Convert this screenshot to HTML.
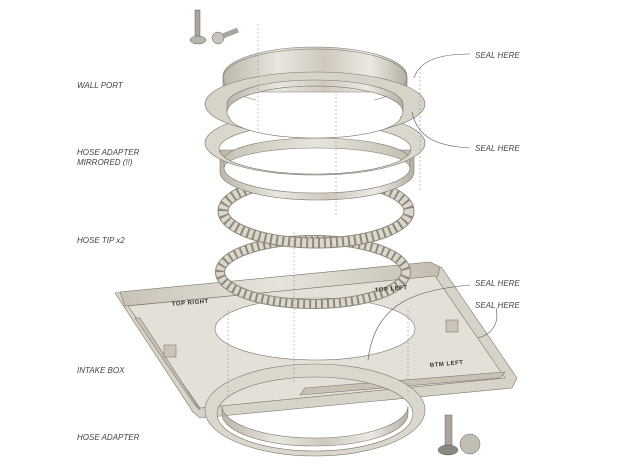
<!DOCTYPE html>
<html><head><meta charset="utf-8"><style>
html,body{margin:0;padding:0;background:#fff;width:628px;height:472px;overflow:hidden}
svg{display:block}
text{font-family:"Liberation Sans",sans-serif;font-style:italic;font-size:8px;fill:#444}
.eng{font-style:normal;font-weight:bold;font-size:6px;fill:#333;letter-spacing:.5px}
</style></head><body>
<svg width="628" height="472" viewBox="0 0 628 472" xmlns="http://www.w3.org/2000/svg">
<defs>
<linearGradient id="m" x1="0" x2="1" y1="0" y2="0">
<stop offset="0" stop-color="#bdb7aa"/><stop offset=".3" stop-color="#e9e6df"/><stop offset=".55" stop-color="#cfc9bd"/><stop offset=".8" stop-color="#ece9e3"/><stop offset="1" stop-color="#b5afa2"/>
</linearGradient>
<linearGradient id="m2" x1="0" x2="1">
<stop offset="0" stop-color="#c9c3b6"/><stop offset=".5" stop-color="#e7e4dc"/><stop offset="1" stop-color="#c4beb1"/>
</linearGradient>
</defs>
<g stroke="#7d786e" stroke-width=".6">
<!-- intake box -->
<polygon points="115,293 430,262 442,268 517,378 512,388 200,418 193,412" fill="#d8d3c8"/>
<polygon points="120,292 430,262 440,267 438,276 125,306" fill="url(#m2)"/>
<polygon points="128,306 435,276 505,378 200,408" fill="#e4e0d8"/>
<polygon points="135,318 195,405 200,410 140,318" fill="#c8c2b5"/>
<polygon points="300,395 500,378 505,372 305,388" fill="#c8c2b5"/>
<ellipse cx="315" cy="329" rx="100" ry="31" fill="#fff"/>
<rect x="164" y="345" width="12" height="12" fill="#cbc5b8"/>
<rect x="446" y="320" width="12" height="12" fill="#cbc5b8"/>
<!-- hose adapter bottom -->
<path fill-rule="evenodd" fill="#dcd7cc" d="M205 410 a110 46 0 1 0 220 0 a110 46 0 1 0 -220 0Z M217 414 a98 37 0 1 0 196 0 a98 37 0 1 0 -196 0Z"/>
<path d="M222 414 A93 32 0 0 0 408 414 L408 406 A93 32 0 0 1 222 406Z" fill="url(#m)"/>
<!-- hose tip 2 -->
<ellipse cx="313" cy="272" rx="93" ry="32" fill="none" stroke="#8f897d" stroke-width="10"/>
<ellipse cx="313" cy="272" rx="93" ry="32" fill="none" stroke="#dcd7cb" stroke-width="8" stroke-dasharray="4 2"/>
<!-- hose tip 1 -->
<ellipse cx="316" cy="211" rx="93" ry="32" fill="none" stroke="#8f897d" stroke-width="11"/>
<ellipse cx="316" cy="211" rx="93" ry="32" fill="none" stroke="#dcd7cb" stroke-width="9" stroke-dasharray="4 2"/>
<!-- hose adapter mirrored -->
<path d="M220 150 L220 172 A97 28 0 0 0 414 172 L414 150Z" fill="url(#m)"/>
<ellipse cx="317" cy="168" rx="93" ry="25" fill="#fff"/>
<path d="M224 160 A93 22 0 0 1 410 160 L410 168 A93 20 0 0 0 224 168Z" fill="url(#m2)"/>
<path fill-rule="evenodd" fill="#dcd7cc" d="M205 143 a110 32 0 1 0 220 0 a110 32 0 1 0 -220 0Z M219 149 a96 25 0 1 0 192 0 a96 25 0 1 0 -192 0Z"/>
<!-- wall port -->
<path d="M223 76 A92 29 0 0 1 407 76 L407 92 L223 92Z" fill="url(#m)"/>
<ellipse cx="315" cy="78" rx="92" ry="29" fill="none"/>
<path fill-rule="evenodd" fill="#d8d3c8" d="M205 104 a110 32 0 1 0 220 0 a110 32 0 1 0 -220 0Z M227 112 a88 26 0 1 0 176 0 a88 26 0 1 0 -176 0Z"/>
<path d="M227 112 A88 26 0 0 1 403 112 L403 104 A88 24 0 0 0 227 104Z" fill="url(#m)"/>
<ellipse cx="315" cy="116" rx="86" ry="22" fill="#fff" stroke="none"/>
<path d="M229 116 A86 22 0 0 0 401 116" fill="none"/>
</g>
<!-- dashed axis lines -->
<g stroke="#888" stroke-width=".5" stroke-dasharray="2 2" fill="none">
<line x1="258" y1="24" x2="258" y2="130"/>
<line x1="336" y1="93" x2="336" y2="215"/>
<line x1="420" y1="68" x2="420" y2="190"/>
<line x1="294" y1="232" x2="294" y2="385"/>
<line x1="228" y1="310" x2="228" y2="398"/>
<line x1="408" y1="310" x2="408" y2="398"/>
</g>
<!-- screws -->
<g stroke="#666" stroke-width=".5">
<rect x="195" y="10" width="5" height="26" fill="#a9a59c"/>
<ellipse cx="198" cy="40" rx="8" ry="4" fill="#b8b4ab"/>
<line x1="218" y1="38" x2="238" y2="30" stroke="#a9a59c" stroke-width="5"/>
<circle cx="218" cy="38" r="6" fill="#c8c4bb"/>
<rect x="445" y="415" width="7" height="30" fill="#a9a59c"/>
<ellipse cx="448" cy="450" rx="10" ry="5" fill="#8c8880"/>
<circle cx="470" cy="444" r="10" fill="#c2bdb3"/>
</g>
<!-- leader lines -->
<g stroke="#555" stroke-width=".6" fill="none">
<path d="M470 54 C440 54 420 60 414 78"/>
<path d="M470 148 C440 146 418 140 412 112"/>
<path d="M470 285 C420 290 375 300 368 360"/>
<path d="M496 308 C500 325 490 335 478 338"/>
</g>
<g>
<text x="77" y="88">WALL PORT</text>
<text x="77" y="155">HOSE ADAPTER</text>
<text x="77" y="165">MIRRORED (!!)</text>
<text x="77" y="243">HOSE TIP x2</text>
<text x="77" y="373">INTAKE BOX</text>
<text x="77" y="440">HOSE ADAPTER</text>
<text x="475" y="58">SEAL HERE</text>
<text x="475" y="151">SEAL HERE</text>
<text x="475" y="286">SEAL HERE</text>
<text x="475" y="308">SEAL HERE</text>
<text class="eng" x="172" y="306" transform="rotate(-5 172 306)">TOP RIGHT</text>
<text class="eng" x="375" y="292" transform="rotate(-5 375 292)">TOP LEFT</text>
<text class="eng" x="430" y="367" transform="rotate(-5 430 367)">BTM LEFT</text>
</g>
</svg>
</body></html>
